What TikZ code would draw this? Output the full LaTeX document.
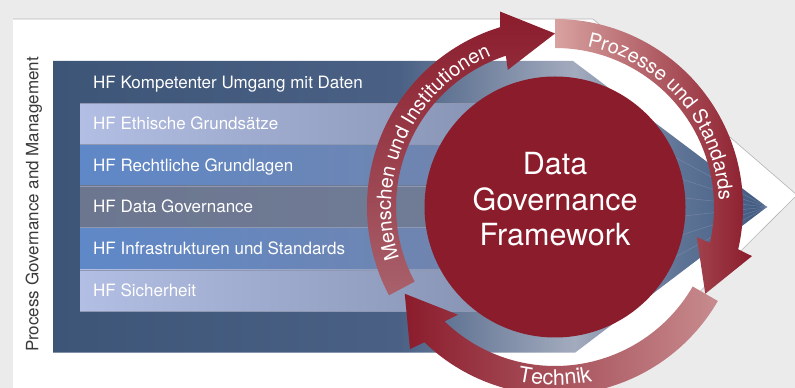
\documentclass[tikz,border=0pt]{standalone}
\usepackage{fontspec}
\setmainfont{TeX Gyre Heros}
\usetikzlibrary{decorations.text}
\definecolor{bggrey}{HTML}{EBEBEB}
\definecolor{edgegrey}{HTML}{B4B4B4}
\definecolor{dred}{HTML}{8B1C2C}
\definecolor{bA}{HTML}{3D5577}
\definecolor{bB}{HTML}{4A6185}
\definecolor{bC}{HTML}{A3ABBE}
\definecolor{bD}{HTML}{5E7496}
\definecolor{bE}{HTML}{3F5A80}
\definecolor{lavL}{HTML}{B2BEE3}
\definecolor{lavR}{HTML}{7F8BAA}
\definecolor{bluL}{HTML}{5F88C8}
\definecolor{bluR}{HTML}{7684A6}
\definecolor{greyL}{HTML}{6C768F}
\definecolor{greyR}{HTML}{727D98}
\definecolor{sepline}{HTML}{8E98B3}
\definecolor{labelgrey}{HTML}{3A3A3A}
\definecolor{pinkP}{HTML}{D8A2A0}
\definecolor{pinkM}{HTML}{A8616B}
\definecolor{pinkT}{HTML}{C78B8E}
\pgfdeclarehorizontalshading{blueshade}{100bp}{color(0bp)=(bA); color(25bp)=(bA); color(49.3bp)=(bB); color(61.5bp)=(bC); color(68.9bp)=(bD); color(75bp)=(bE); color(100bp)=(bE)}
\newcommand{\arclabelfont}{\fontsize{20}{20}\selectfont}
\newcommand{\techlabelfont}{\fontsize{21.5}{21.5}\selectfont}
\tikzset{
  hf/.style={anchor=base west, inner sep=0pt, text=white, font=\fontsize{17}{20}\selectfont},
  sep/.style={draw=sepline, line width=0.6pt},
  persp/.style={draw=sepline, line width=0.5pt, opacity=0.5},
  edge/.style={draw=edgegrey, line width=0.6pt},
  arclabel/.style={decorate, decoration={text along path, text align=center, text color=white}}
}
\begin{document}
\begin{tikzpicture}[x=1pt,y=1pt]
\useasboundingbox (0,0) rectangle (795,388);
\fill[bggrey] (0,0) rectangle (795,388);
% white arrow-shaped background
\fill[white] (13,-5) -- (13,369) -- (593,369) -- (797,193) -- (598,-5) -- cycle;
\draw[edge] (13,369) -- (593,369) -- (797,193) -- (598,-5);
% blue arrow
\shade[shading=blueshade] (53,327) -- (573,327) -- (767,181) -- (575,35.3) -- (53,35.3) -- cycle;
\coordinate (tip) at (767,181);
% stripes
\shade[left color=lavL, right color=lavR] (80,243.7) rectangle (575,284.7);
\shade[left color=bluL, right color=bluR] (80,202) rectangle (575,243.7);
\shade[left color=greyL, right color=greyR] (80,160.3) rectangle (575,202);
\shade[left color=bluL, right color=bluR] (80,118) rectangle (575,160.3);
\shade[left color=lavL, right color=lavR] (80,76.3) rectangle (575,118);
\foreach \yb in {284.7,243.7,202,160.3,118,76.3}{
  \draw[sep] (80,\yb) -- (575,\yb);
  \draw[persp] (575,\yb) -- (tip);
}
% row labels
\node[hf] (hf1) at (93,299.8) {HF Kompetenter Umgang mit Daten};
\node[hf] (hf2) at (93,258.2) {HF Ethische Grundsätze};
\node[hf] (hf3) at (93,216.8) {HF Rechtliche Grundlagen};
\node[hf] (hf4) at (93,175.1) {HF Data Governance};
\node[hf] (hf5) at (93,133.1) {HF Infrastrukturen und Standards};
\node[hf] (hf6) at (93,91.1) {HF Sicherheit};
% side label
\node[rotate=90, anchor=base, inner sep=0pt, text=labelgrey, font=\fontsize{17}{20}\selectfont] (pgm) at (38.5,183.5) {Process Governance and Management};
% central circle
\node[circle, fill=dred, minimum size=261pt, inner sep=0pt] (core) at (555,181) {};
\node[text=white, align=center, font=\fontsize{30.5}{35.5}\selectfont] (coretext) at (555,188.5) {Data\\Governance\\Framework};
% ring arrows
\begin{scope}[shift={(555,181)}]
  % Technik
  \shade[left color=dred, right color=pinkT]
    (-30:159) arc[start angle=-30, end angle=-134, radius=159] -- (-132:145) -- (-150:173.5) -- (-135.6:203) -- (-134:188)
    arc[start angle=-134, end angle=-30, radius=188] -- cycle;
  % Menschen und Institutionen
  \shade[bottom color=pinkM, top color=dred]
    (208:159) arc[start angle=208, end angle=108, radius=159] -- (109:145) -- (90:173.5) -- (105.7:203) -- (107:188)
    arc[start angle=107, end angle=208, radius=188] -- cycle;
  % Prozesse und Standards
  \shade[left color=pinkP, right color=dred]
    (90:188) arc[start angle=90, end angle=-13, radius=188] -- (-14:203) -- (-30:173.5) -- (-12:145) -- (-13:159)
    arc[start angle=-13, end angle=90, radius=159] -- cycle;
  % labels along the ring
  \path[arclabel, decoration={text={|\arclabelfont|Menschen und Institutionen}}] (206:164) arc[start angle=206, end angle=105, radius=164];
  \path[arclabel, decoration={text={|\arclabelfont|Prozesse und Standards}}] (92:164) arc[start angle=92, end angle=-11, radius=164];
  \path[arclabel, decoration={text={|\techlabelfont|Technik}}] (-130:178) arc[start angle=-130, end angle=-50, radius=178];
\end{scope}
\end{tikzpicture}
\end{document}
